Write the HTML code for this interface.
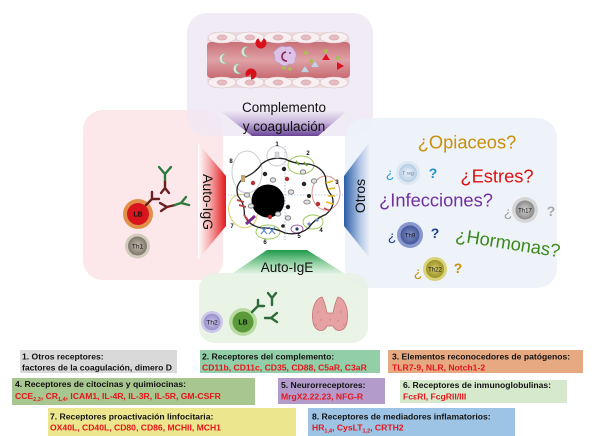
<!DOCTYPE html>
<html><head><meta charset="utf-8"><style>
html,body{margin:0;padding:0;background:#fff;}
svg{display:block;font-family:"Liberation Sans",Arial,sans-serif;}
</style></head><body>
<svg width="600" height="436" viewBox="0 0 600 436" xmlns="http://www.w3.org/2000/svg">
<defs>
 <linearGradient id="gP" x1="0" y1="0" x2="0" y2="1"><stop offset="0" stop-color="#efe9f4"/><stop offset="0.45" stop-color="#c9b6dd"/><stop offset="1" stop-color="#6a4496"/></linearGradient>
 <linearGradient id="gR" x1="0" y1="0" x2="1" y2="0"><stop offset="0" stop-color="#ffffff"/><stop offset="0.4" stop-color="#f6b2b2"/><stop offset="1" stop-color="#e3181d"/></linearGradient>
 <linearGradient id="gB" x1="0" y1="0" x2="1" y2="0"><stop offset="0" stop-color="#2a5ca6"/><stop offset="0.6" stop-color="#b4c8e6"/><stop offset="1" stop-color="#f4f7fb"/></linearGradient>
 <linearGradient id="gG" x1="0" y1="0" x2="0" y2="1"><stop offset="0" stop-color="#1e9a4a"/><stop offset="0.55" stop-color="#98d4a8"/><stop offset="1" stop-color="#eef7ec"/></linearGradient>
 <linearGradient id="gL" x1="0" y1="0" x2="0" y2="1"><stop offset="0" stop-color="#c96f78"/><stop offset="0.5" stop-color="#dfa2a6"/><stop offset="1" stop-color="#c86a72"/></linearGradient>
 <radialGradient id="rTreg"><stop offset="0" stop-color="#eef4fa"/><stop offset="1" stop-color="#b4cce4"/></radialGradient>
 <radialGradient id="rTh17"><stop offset="0" stop-color="#d4d4d4"/><stop offset="1" stop-color="#8a8a8a"/></radialGradient>
 <radialGradient id="rTh9"><stop offset="0" stop-color="#8494c8"/><stop offset="1" stop-color="#44569a"/></radialGradient>
 <radialGradient id="rTh22"><stop offset="0" stop-color="#d4cc66"/><stop offset="1" stop-color="#9c9428"/></radialGradient>
 <radialGradient id="rTh1"><stop offset="0" stop-color="#c4bcae"/><stop offset="1" stop-color="#7e786c"/></radialGradient>
 <radialGradient id="rTh2"><stop offset="0" stop-color="#c8c2e6"/><stop offset="1" stop-color="#9890c8"/></radialGradient>
</defs>
<rect width="600" height="436" fill="#fff"/>

<!-- panels -->
<rect x="83" y="110" width="140" height="170" rx="20" fill="#fbe4e7" opacity="0.85"/>
<rect x="187" y="13" width="186" height="123" rx="20" fill="#efe8f3" opacity="0.85"/>
<rect x="345" y="118" width="212" height="170" rx="20" fill="#edf1f8" opacity="0.92"/>
<rect x="199" y="273" width="169" height="70" rx="16" fill="#e7f2e4" opacity="0.92"/>

<!-- trapezoids -->
<polygon points="220,111 347,111 318,136 252,136" fill="url(#gP)"/>
<polygon points="198,143 226,176 226,226 198,260" fill="url(#gR)"/>
<polygon points="344,176 371,140 371,260 344,226" fill="url(#gB)"/>
<polygon points="267,250 307,250 347,275 230,275" fill="url(#gG)"/>

<text x="284" y="112" font-size="13.5" text-anchor="middle" fill="#111">Complemento</text>
<text x="284" y="131" font-size="13.5" text-anchor="middle" fill="#111">y coagulación</text>
<text transform="translate(203,202) rotate(90)" font-size="14" text-anchor="middle" fill="#111">Auto-IgG</text>
<text transform="translate(365,196) rotate(-90)" font-size="14" text-anchor="middle" fill="#111">Otros</text>
<text x="287" y="272" font-size="13.5" text-anchor="middle" fill="#111">Auto-IgE</text>

<!-- vessel -->
<rect x="207" y="32" width="143" height="56" rx="9" fill="#eadcdf"/>
<rect x="207" y="42" width="143" height="36" rx="4" fill="url(#gL)"/>
<g fill="#f7eff1" stroke="#d9c0c4" stroke-width="0.6">
 <ellipse cx="222" cy="37.5" rx="14" ry="5.5"/><ellipse cx="250" cy="37.5" rx="14" ry="5.5"/><ellipse cx="278" cy="37.5" rx="14" ry="5.5"/><ellipse cx="306" cy="37.5" rx="14" ry="5.5"/><ellipse cx="334" cy="37.5" rx="14" ry="5.5"/>
 <ellipse cx="222" cy="82.5" rx="14" ry="5.5"/><ellipse cx="250" cy="82.5" rx="14" ry="5.5"/><ellipse cx="278" cy="82.5" rx="14" ry="5.5"/><ellipse cx="306" cy="82.5" rx="14" ry="5.5"/><ellipse cx="334" cy="82.5" rx="14" ry="5.5"/>
</g>
<g fill="#e6bcc0" stroke="#cf9ea4" stroke-width="0.5">
 <ellipse cx="222" cy="37.5" rx="5" ry="2.6"/><ellipse cx="250" cy="37.5" rx="5" ry="2.6"/><ellipse cx="278" cy="37.5" rx="5" ry="2.6"/><ellipse cx="306" cy="37.5" rx="5" ry="2.6"/><ellipse cx="334" cy="37.5" rx="5" ry="2.6"/>
 <ellipse cx="222" cy="82.5" rx="5" ry="2.6"/><ellipse cx="250" cy="82.5" rx="5" ry="2.6"/><ellipse cx="278" cy="82.5" rx="5" ry="2.6"/><ellipse cx="306" cy="82.5" rx="5" ry="2.6"/><ellipse cx="334" cy="82.5" rx="5" ry="2.6"/>
</g>
<g fill="#dcecde" stroke="#9cbca4" stroke-width="0.6">
 <path d="M226,54 A5 5 0 1 0 227,63 A4 4 0 1 1 226,54 Z"/>
 <path d="M248,47 A5 5 0 1 0 249,56 A4 4 0 1 1 248,47 Z"/>
 <path d="M240,64 A5 5 0 1 0 241,73 A4 4 0 1 1 240,64 Z"/>
</g>
<path d="M261,43 L258.25,38.24 A5.5 5.5 0 1 0 263.75,38.24 Z" fill="#d8101a"/>
<path d="M251,74 L248.25,78.76 A5.5 5.5 0 1 1 253.75,78.76 Z" fill="#d8101a" transform="rotate(30 251 74)"/>
<path d="M276,50 Q280,45 286,47 Q292,45 294,50 Q298,54 295,59 Q296,65 289,64 Q284,68 279,63 Q273,61 275,56 Q272,52 276,50 Z" fill="#dcc2e6" stroke="#b898c8" stroke-width="0.6"/>
<path d="M286,52 A4 4 0 1 0 287,61" fill="none" stroke="#8a1a4a" stroke-width="1.6"/>
<circle cx="290" cy="53" r="1" fill="#8a4aa0"/><circle cx="282" cy="58" r="0.8" fill="#8a4aa0"/>
<g fill="#a8c050">
 <circle cx="306" cy="53" r="2"/><circle cx="311" cy="61" r="2"/><circle cx="284" cy="68" r="1.8"/><circle cx="290" cy="69" r="1.8"/><circle cx="326" cy="51" r="2"/><circle cx="338" cy="58" r="2"/>
</g>
<polygon points="301,72 305,66 309,72" fill="#c8d4e4" stroke="#a8b4c8" stroke-width="0.4"/>
<polygon points="311,67 315,61 319,67" fill="#c8d4e4" stroke="#a8b4c8" stroke-width="0.4"/>
<polygon points="322,60 326,54 330,60" fill="#e01020"/>
<polygon points="337,62 344,66 337,70" fill="#e01020"/>

<!-- central cell -->
<g stroke="#9ab8d8" stroke-width="0.8" stroke-dasharray="1.5 1.5">
 <line x1="285" y1="146" x2="285" y2="240"/><line x1="228" y1="195" x2="343" y2="195"/>
</g>
<g fill="none" stroke-width="1">
 <ellipse cx="277" cy="156" rx="10" ry="10" stroke="#c8c8cc"/>
 <ellipse cx="301" cy="165" rx="13" ry="9" stroke="#9acb5a"/>
 <ellipse cx="326" cy="193" rx="14" ry="17" stroke="#d8948c"/>
 <ellipse cx="313" cy="222" rx="10" ry="7" stroke="#9acb5a"/>
 <ellipse cx="297" cy="229" rx="6" ry="4" stroke="#a060b0"/>
 <ellipse cx="268" cy="232" rx="12" ry="7" stroke="#9acb5a"/>
 <ellipse cx="243" cy="211" rx="14" ry="17" stroke="#d8d068" transform="rotate(-20 243 211)"/>
 <ellipse cx="247" cy="172" rx="15" ry="21" stroke="#c8ccd4"/>
</g>
<path d="M332,196 Q335.8,206.7 325.7,214.5 Q314.3,219 308.5,228 Q298.6,236 285,233 Q274.3,227.5 261.5,228 Q247.8,225.3 244.3,214.5 Q245,204.4 238,196 Q234.2,185.3 244.3,177.5 Q255.7,173 261.5,164 Q271.4,156 285,159 Q295.7,164.5 308.5,164 Q322.2,166.7 325.7,177.5 Q325,187.6 332,196 Z" fill="none" stroke="#222" stroke-width="1.3"/>
<circle cx="268" cy="201" r="16.5" fill="#000"/>
<g fill="#222"><circle cx="265" cy="174" r="2.2"/><circle cx="284" cy="169" r="2.2"/><circle cx="304" cy="184" r="2.2"/><circle cx="288" cy="207" r="2.2"/><circle cx="309" cy="196" r="2"/><circle cx="283" cy="226" r="1.8"/></g>
<g fill="#b83030"><circle cx="253" cy="183" r="2.2"/><circle cx="287" cy="179" r="2.2"/><circle cx="270" cy="217" r="2.2"/><circle cx="318" cy="204" r="2.2"/></g>
<g fill="#e2e2e2" stroke="#777" stroke-width="0.8">
 <ellipse cx="273" cy="180" rx="2.8" ry="2.2"/><ellipse cx="291" cy="192" rx="2.8" ry="2.2"/><ellipse cx="278" cy="214" rx="2.8" ry="2.2"/><ellipse cx="288" cy="218" rx="2.8" ry="2.2"/><ellipse cx="303" cy="172" rx="2.8" ry="2.2"/><ellipse cx="251" cy="206" rx="2.8" ry="2.2"/><ellipse cx="247" cy="195" rx="2.8" ry="2.2"/><ellipse cx="314" cy="181" rx="2.8" ry="2.2"/><ellipse cx="307" cy="202" rx="3.2" ry="2"/>
</g>
<g stroke="#e0b820" stroke-width="1.5"><line x1="326" y1="183" x2="333" y2="181"/><line x1="328" y1="189" x2="335" y2="188"/><line x1="328" y1="196" x2="335" y2="196"/><line x1="326" y1="202" x2="333" y2="204"/></g>
<line x1="324" y1="208" x2="330" y2="211" stroke="#d04040" stroke-width="1.5"/>
<g stroke="#6aa030" stroke-width="1.5"><line x1="296" y1="161" x2="299" y2="165"/><line x1="304" y1="162" x2="307" y2="166"/></g>
<g stroke="#c04040" stroke-width="1.8"><line x1="237" y1="200" x2="244" y2="202"/><line x1="239" y1="205" x2="246" y2="207"/><line x1="244" y1="215" x2="248" y2="220"/></g>
<line x1="246" y1="224" x2="255" y2="216" stroke="#7a2c8c" stroke-width="3"/>
<rect x="241" y="175" width="4" height="7" fill="#c8a468"/>
<rect x="275" y="152" width="4" height="6" fill="#d8d8dc" stroke="#aaa" stroke-width="0.4"/>
<g stroke="#5b8ad0" stroke-width="1.2"><line x1="261" y1="227" x2="267" y2="234"/><line x1="267" y1="227" x2="261" y2="234"/><line x1="269" y1="227" x2="275" y2="234"/><line x1="275" y1="227" x2="269" y2="234"/></g>
<circle cx="297" cy="229" r="1.6" fill="#2a3a6a"/>
<circle cx="309" cy="224" r="1.6" fill="#7090c0"/><circle cx="317" cy="220" r="1.6" fill="#7090c0"/>
<g font-size="6" font-weight="bold" fill="#111" text-anchor="middle">
 <text x="277" y="146">1</text><text x="308" y="155">2</text><text x="337" y="184">3</text><text x="321" y="232">4</text><text x="299" y="238">5</text><text x="265" y="244">6</text><text x="232" y="228">7</text><text x="231" y="163">8</text>
</g>

<!-- left panel -->
<circle cx="138" cy="214" r="15" fill="#e0904a"/>
<circle cx="138" cy="214" r="11" fill="#d8141c"/>
<text x="138" y="216.5" font-size="7" font-weight="bold" text-anchor="middle" fill="#111">LB</text>
<circle cx="137.5" cy="246" r="12.5" fill="#d2cbbd"/>
<circle cx="137.5" cy="246" r="9.5" fill="url(#rTh1)"/>
<text x="137.5" y="248.5" font-size="6.5" text-anchor="middle" fill="#111">Th1</text>
<g stroke-width="2.4" stroke-linecap="round" fill="none">
 <path d="M159,167 L165,174 L171,167 M165,174 L165,182" stroke="#2e7a3e"/>
 <path d="M165,182 L165,188 M161,193 L165,188 L169,193" stroke="#6a2020"/>
 <path d="M146,205 L152,199 L152,192 M152,199 L159,199" stroke="#6a2020"/>
 <path d="M160,203 L167,207 L161,211 M167,207 L175,205" stroke="#6a2020"/>
 <path d="M175,205 L181,203 L186,197 M181,203 L189,205" stroke="#2e7a3e"/>
</g>

<!-- bottom panel -->
<circle cx="212" cy="322" r="11" fill="#cbc6ea"/>
<circle cx="212" cy="322" r="8.3" fill="url(#rTh2)"/>
<text x="212" y="324.3" font-size="6.5" text-anchor="middle" fill="#111">Th2</text>
<circle cx="243" cy="322" r="14" fill="#b8dca0"/>
<circle cx="243" cy="322" r="10.5" fill="#5a9a3a"/>
<text x="243" y="324.5" font-size="7" font-weight="bold" text-anchor="middle" fill="#111">LB</text>
<g stroke="#2e6a3a" stroke-width="2.4" stroke-linecap="round" fill="none">
 <path d="M252,312 L258,306 L258,300 M258,306 L264,306"/>
 <path d="M268,293 L272,298 L276,293 M272,298 L272,305"/>
 <path d="M265,318 L271,318 L277,313 M271,318 L277,322"/>
</g>
<path d="M322,297 C314,299 311,312 313,322 C315,332 324,333 327,326 L333,326 C336,333 345,332 347,322 C349,312 346,299 338,297 C335,302 334,309 333,313 L327,313 C326,309 325,302 322,297 Z" fill="#e6a2a2" stroke="#c47676" stroke-width="0.8"/>
<g fill="#c97a7a"><circle cx="318" cy="312" r="0.7"/><circle cx="321" cy="320" r="0.7"/><circle cx="341" cy="312" r="0.7"/><circle cx="338" cy="321" r="0.7"/><circle cx="330" cy="320" r="0.7"/><circle cx="316" cy="325" r="0.7"/><circle cx="344" cy="325" r="0.7"/></g>

<!-- right panel -->
<text x="467" y="148.5" font-size="18.3" text-anchor="middle" fill="#c8900a">¿Opiaceos?</text>
<text x="497" y="182.5" font-size="18.3" text-anchor="middle" fill="#e01010">¿Estres?</text>
<text x="436" y="206.5" font-size="18.3" text-anchor="middle" fill="#7030a0">¿Infecciones?</text>
<text transform="translate(507,249) rotate(9)" font-size="18.3" text-anchor="middle" fill="#3a8a1a">¿Hormonas?</text>

<text x="390" y="178" font-size="14" text-anchor="middle" fill="#30a0e0">¿</text>
<circle cx="408" cy="173" r="12" fill="#dbe7f2"/><circle cx="408" cy="173" r="9" fill="url(#rTreg)"/>
<text x="408" y="175" font-size="5" text-anchor="middle" fill="#6a7f9a">T reg</text>
<text x="433" y="178" font-size="14" font-weight="bold" text-anchor="middle" fill="#2090d0">?</text>

<text x="508" y="217" font-size="14" text-anchor="middle" fill="#a0a0a0">¿</text>
<circle cx="525" cy="210" r="13" fill="#d6d6d6"/><circle cx="525" cy="210" r="9.5" fill="url(#rTh17)"/>
<text x="525" y="212.3" font-size="6" text-anchor="middle" fill="#111">Th17</text>
<text x="551" y="216" font-size="14" font-weight="bold" text-anchor="middle" fill="#a8a8a8">?</text>

<text x="392" y="241" font-size="14" text-anchor="middle" fill="#1f3f8f">¿</text>
<circle cx="410" cy="235" r="13" fill="#8898cc"/><circle cx="410" cy="235" r="9.5" fill="url(#rTh9)"/>
<text x="410" y="237.3" font-size="6" text-anchor="middle" fill="#111">Th9</text>
<text x="435" y="238" font-size="14" font-weight="bold" text-anchor="middle" fill="#1f3f8f">?</text>

<text x="418" y="277" font-size="14" text-anchor="middle" fill="#c8900a">¿</text>
<circle cx="435" cy="269" r="12" fill="#dad276"/><circle cx="435" cy="269" r="9" fill="url(#rTh22)"/>
<text x="435" y="271.3" font-size="6" text-anchor="middle" fill="#111">Th22</text>
<text x="458" y="273" font-size="14" font-weight="bold" text-anchor="middle" fill="#c8900a">?</text>

<!-- bottom boxes -->
<rect x="20" y="350" width="157" height="23" fill="#d9d9d9"/>
<rect x="200" y="350" width="180" height="23" fill="#92cea8"/>
<rect x="388" y="350" width="195" height="23" fill="#e6a981"/>
<rect x="12" y="378" width="243" height="27" fill="#a8c690"/>
<rect x="278" y="378" width="107" height="26" fill="#b39ccc"/>
<rect x="400" y="380" width="167" height="23" fill="#d7e9cd"/>
<rect x="48" y="408" width="248" height="28" fill="#ece78e"/>
<rect x="308" y="408" width="207" height="28" fill="#9dc3e5"/>

<g font-size="8.6" font-weight="bold" fill="#111">
 <text x="22" y="359.5">1. Otros receptores:</text>
 <text x="22" y="370.5">factores de la coagulación, dimero D</text>
 <text x="202" y="359.5">2. Receptores del complemento:</text>
 <text x="202" y="370.5" fill="#e8141b">CD11b, CD11c, CD35, CD88, C5aR, C3aR</text>
 <text x="392" y="359.5">3. Elementos reconocedores de patógenos:</text>
 <text x="392" y="370.5" fill="#e8141b">TLR7-9, NLR, Notch1-2</text>
 <text x="15" y="387">4. Receptores de citocinas y quimiocinas:</text>
 <text x="15" y="399" fill="#e8141b">CCE<tspan font-size="5.5" dy="2">2,3</tspan><tspan dy="-2">, CR</tspan><tspan font-size="5.5" dy="2">1,4</tspan><tspan dy="-2">, ICAM1, IL-4R, IL-3R, IL-5R, GM-CSFR</tspan></text>
 <text x="281" y="388">5. Neurorreceptores:</text>
 <text x="281" y="399.5" fill="#e8141b">MrgX2.22.23, NFG-R</text>
 <text x="403" y="388">6. Receptores de inmunoglobulinas:</text>
 <text x="403" y="399.5" fill="#e8141b">FcεRI, FcgRII/III</text>
 <text x="50" y="419.5">7. Receptores proactivación linfocitaria:</text>
 <text x="50" y="430.5" fill="#e8141b">OX40L, CD40L, CD80, CD86, MCHII, MCH1</text>
 <text x="312" y="419.5">8. Receptores de mediadores inflamatorios:</text>
 <text x="312" y="430.5" fill="#e8141b">HR<tspan font-size="5.5" dy="2">1,4</tspan><tspan dy="-2">, CysLT</tspan><tspan font-size="5.5" dy="2">1,2</tspan><tspan dy="-2">, CRTH2</tspan></text>
</g>
</svg>
</body></html>
